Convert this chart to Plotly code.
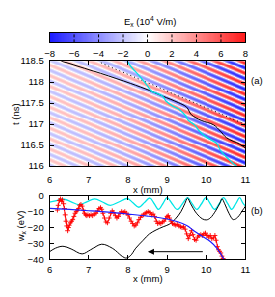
import numpy as np
import plotly.graph_objects as go

# ---------------- data ----------------
# colour bar
cb_ticks = [-8, -6, -4, -2, 0, 2, 4, 6, 8]
cb_grid = [-6, -4, -2, 0, 2, 4, 6]
cb_levels = list(np.linspace(-8, 8, 161))

# panel (a) field parameters
amp_x = [6, 7, 8, 9, 10, 11]
amp_v = [2.1, 2.4, 3.0, 4.2, 5.8, 7.6]
wavelength_x = 0.64   # mm
period_t = 0.25       # ns
grid_x = list(np.linspace(6, 11, 204))
grid_t = list(np.linspace(116, 118.5, 110))

a_t_ticks = [116, 116.5, 117, 117.5, 118, 118.5]
a_t_labels = ['116', '116.5', '117', '117.5', '118', '118.5']
x_ticks = [6, 7, 8, 9, 10, 11]

black_a_x = [6.3, 7.3, 8.06, 8.55, 8.88, 9.29, 9.5, 9.62, 9.87, 10.19, 10.36, 10.52, 10.85, 11.0]
black_a_t = [118.5, 118.21, 117.97, 117.8, 117.67, 117.51, 117.4, 117.22, 117.09, 116.98, 116.83, 116.67, 116.52, 116.43]
dotted_a_x = [7.31, 11.0]
dotted_a_t = [118.46, 116.99]
cyan_a_x = [7.98, 8.06, 8.31, 8.51, 8.6, 8.72, 8.88, 8.97, 9.13, 9.29, 9.46, 9.54, 9.7, 9.83, 10.03, 10.28, 10.36, 10.52, 10.69, 10.77]
cyan_a_t = [118.5, 118.39, 118.13, 117.9, 117.78, 117.74, 117.67, 117.55, 117.44, 117.36, 117.21, 117.09, 116.98, 116.83, 116.67, 116.52, 116.37, 116.21, 116.06, 116.0]

# panel (b)
b_w_ticks = [0, -10, -20, -30, -40]
cyan_b_x = [6.0, 6.15, 6.35, 6.55, 6.75, 6.95, 7.15, 7.35, 7.55, 7.77, 7.98, 8.12, 8.28, 8.42, 8.56, 8.67, 8.78, 8.89, 9.0, 9.13, 9.26, 9.39, 9.52, 9.64,
            9.76, 9.88, 9.99, 10.1, 10.21, 10.33, 10.44, 10.55, 10.65, 10.75, 10.85, 10.93, 11.0]
cyan_b_w = [-4.0, -3.2, -2.0, -3.8, -5.6, -3.8, -1.9, -3.9, -6.0, -3.9, -1.7, -4.2, -7.2, -4.3, -1.4, -5.0, -8.6, -5.0, -1.2, -5.0, -8.6, -5.0, -1.2, -5.0,
            -8.6, -5.0, -1.2, -5.0, -8.6, -5.0, -1.2, -5.0, -8.6, -5.0, -1.2, -4.5, -6.5]
black_b_x = [6.0, 6.15, 6.34, 6.55, 6.83, 7.05, 7.33, 7.6, 7.94, 8.06, 8.2, 8.39, 8.55, 8.72, 8.9, 9.05, 9.2, 9.35, 9.45, 9.52, 9.6, 9.75, 9.9, 10.0,
             10.1, 10.25, 10.35, 10.4, 10.47, 10.58, 10.69, 10.8, 10.93, 11.0]
black_b_w = [-35.2, -33.0, -31.8, -33.5, -36.6, -34.0, -30.5, -33.0, -39.2, -37.8, -33.0, -28.0, -24.0, -21.5, -19.5, -18.0, -15.0, -10.0, -5.0, -1.5, -5.0, -11.0, -14.5, -15.2,
             -14.0, -9.0, -4.5, -1.8, -5.0, -11.0, -15.0, -13.5, -9.0, -6.5]
blue_b_x = [6.0, 6.5, 7.0, 7.5, 8.0, 8.5, 9.0, 9.25, 9.5, 9.7, 9.9, 10.1, 10.25, 10.35, 10.45]
blue_b_w = [-7.9, -8.6, -9.4, -10.3, -11.5, -12.8, -14.6, -16.2, -18.7, -22.3, -25.5, -28.8, -32.5, -35.8, -40.0]
red_b_x = [6.20, 6.22, 6.25, 6.28, 6.31, 6.33, 6.36, 6.38, 6.40, 6.42, 6.44, 6.46, 6.48, 6.50, 6.53, 6.56, 6.59, 6.62, 6.65, 6.68,
           6.71, 6.74, 6.77, 6.80, 6.83, 6.86, 6.89, 6.92, 6.95, 6.98, 7.02, 7.06, 7.10, 7.14, 7.18, 7.22, 7.26, 7.30, 7.33, 7.36,
           7.40, 7.44, 7.48, 7.52, 7.56, 7.60, 7.64, 7.68, 7.72, 7.76, 7.80, 7.84, 7.88, 7.92, 7.96, 8.00, 8.04, 8.08, 8.12, 8.16,
           8.20, 8.24, 8.28, 8.32, 8.36, 8.40, 8.44, 8.48, 8.52, 8.56, 8.60, 8.64, 8.68, 8.72, 8.76, 8.80, 8.84, 8.88, 8.92, 8.96,
           9.00, 9.03, 9.06, 9.10, 9.14, 9.18, 9.22, 9.26, 9.30, 9.34, 9.38, 9.42, 9.46, 9.50, 9.54, 9.58, 9.62, 9.66, 9.70, 9.74,
           9.78, 9.82, 9.86, 9.90, 9.94, 9.98, 10.02, 10.06, 10.10, 10.14, 10.18, 10.22, 10.25, 10.28, 10.31, 10.34, 10.37, 10.40, 10.43]
red_b_w = [-9.0, -6.0, -3.0, -2.0, -3.5, -2.5, -5.0, -8.0, -12.0, -16.0, -19.0, -22.0, -20.0, -18.5, -17.0, -16.0, -15.0, -13.0, -11.0, -10.0,
           -9.0, -8.0, -6.0, -5.5, -6.5, -9.0, -11.0, -12.0, -12.5, -12.0, -12.5, -12.0, -12.5, -11.5, -11.0, -9.5, -8.0, -7.5, -8.5, -11.0,
           -14.0, -16.5, -17.0, -14.0, -11.0, -9.5, -10.5, -12.5, -14.0, -13.0, -11.0, -10.0, -10.5, -10.0, -11.0, -12.0, -14.0, -16.0, -17.5, -19.0,
           -18.5, -17.0, -15.0, -13.5, -12.5, -12.0, -11.0, -10.5, -10.0, -10.5, -12.0, -11.5, -13.0, -16.0, -17.5, -17.0, -17.5, -16.5, -16.0, -14.5,
           -13.0, -12.5, -14.0, -16.0, -17.5, -18.0, -18.5, -18.0, -19.0, -19.5, -20.0, -19.5, -21.0, -24.0, -27.0, -25.0, -22.0, -24.5, -27.5, -28.0,
           -26.0, -25.0, -24.5, -25.0, -24.0, -23.5, -25.0, -26.0, -25.0, -27.0, -26.5, -25.0, -28.0, -32.0, -34.0, -35.0, -36.0, -38.0, -39.5]
arrow_x = [9.95, 8.51]
arrow_w = -35.2

# ---------------- figure ----------------
# page body has an 8 px margin, so the figure is 267x289 placed at (8, 8)
OFF = 8
W, H = 275 - OFF, 297 - OFF
def px(x):
    return (x - OFF) / W
def py(y):
    return 1 - (y - OFF) / H

FONT = dict(family='Liberation Sans, Arial, sans-serif', size=9.5, color='black')
cscale = [[0, 'rgb(25,25,255)'], [0.5, 'rgb(255,255,255)'], [1, 'rgb(255,25,25)']]

GX = np.array(grid_x)
GT = np.array(grid_t)
A = np.interp(GX, amp_x, amp_v)
Z = A[None, :] * np.cos(2 * np.pi * (GX[None, :] / wavelength_x + GT[:, None] / period_t))

fig = go.Figure()

# colour bar as heatmap
fig.add_trace(go.Heatmap(x=cb_levels, y=[0.5], z=[cb_levels], colorscale=cscale, zmin=-8, zmax=8,
                         showscale=False, xaxis='x3', yaxis='y3', hoverinfo='skip'))
gx, gy = [], []
for g in cb_grid:
    gx += [g, g, None]
    gy += [0, 1, None]
fig.add_trace(go.Scatter(x=gx, y=gy, mode='lines', line=dict(color='black', width=1, dash='3px,2px'),
                         xaxis='x3', yaxis='y3', showlegend=False, hoverinfo='skip'))

# panel (a)
fig.add_trace(go.Heatmap(x=grid_x, y=grid_t, z=Z, colorscale=cscale, zmin=-8, zmax=8, showscale=False,
                         xaxis='x', yaxis='y', hoverinfo='skip'))
fig.add_trace(go.Scatter(x=black_a_x, y=black_a_t, mode='lines', line=dict(color='black', width=1),
                         line_shape='spline', xaxis='x', yaxis='y', showlegend=False))
fig.add_trace(go.Scatter(x=dotted_a_x, y=dotted_a_t, mode='lines', line=dict(color='black', width=1, dash='1px,3px'),
                         xaxis='x', yaxis='y', showlegend=False))
fig.add_trace(go.Scatter(x=cyan_a_x, y=cyan_a_t, mode='lines', line=dict(color='rgb(0,230,230)', width=1.3),
                         line_shape='spline', xaxis='x', yaxis='y', showlegend=False))

# panel (b)
fig.add_trace(go.Scatter(x=cyan_b_x, y=cyan_b_w, mode='lines', line=dict(color='rgb(0,230,230)', width=1.3),
                         line_shape='spline', xaxis='x2', yaxis='y2', showlegend=False))
fig.add_trace(go.Scatter(x=black_b_x, y=black_b_w, mode='lines', line=dict(color='black', width=1),
                         line_shape='spline', xaxis='x2', yaxis='y2', showlegend=False))
fig.add_trace(go.Scatter(x=red_b_x, y=red_b_w, mode='lines+markers', line=dict(color='red', width=1),
                         marker=dict(symbol='cross-thin', size=3.5, line=dict(color='red', width=0.9)),
                         xaxis='x2', yaxis='y2', showlegend=False))
fig.add_trace(go.Scatter(x=blue_b_x, y=blue_b_w, mode='lines', line=dict(color='rgb(30,30,255)', width=1.2),
                         line_shape='spline', xaxis='x2', yaxis='y2', showlegend=False))

xdom = [px(46), px(249.5)]
axis_common = dict(showline=True, linecolor='black', linewidth=1, mirror='ticks', ticks='inside',
                   ticklen=4, tickcolor='black', tickwidth=1, showgrid=False, zeroline=False,
                   tickfont=FONT)

fig.update_layout(
    width=W, height=H, margin=dict(l=0, r=0, t=0, b=0),
    paper_bgcolor='white', plot_bgcolor='white', font=FONT, showlegend=False,
    xaxis=dict(domain=xdom, range=[6, 11], tickvals=x_ticks, anchor='y', ticklabelstandoff=5, **axis_common),
    yaxis=dict(domain=[py(166), py(57)], range=[116, 118.5], tickvals=a_t_ticks, ticktext=a_t_labels,
               anchor='x', ticklabelstandoff=3, **axis_common),
    xaxis2=dict(domain=xdom, range=[6, 11], tickvals=x_ticks, anchor='y2', ticklabelstandoff=1, **axis_common),
    yaxis2=dict(domain=[py(263), py(197)], range=[-40, 0], tickvals=b_w_ticks, anchor='x2',
                ticklabelstandoff=3, **axis_common),
    xaxis3=dict(domain=xdom, range=[-8, 8], tickvals=cb_ticks, anchor='y3', showline=True, linecolor='black',
                linewidth=1, mirror=True, ticks='', showgrid=False, zeroline=False, tickfont=FONT,
                ticklabelstandoff=2),
    yaxis3=dict(domain=[py(37.5), py(27.5)], range=[0, 1], anchor='x3', showline=True, linecolor='black',
                linewidth=1, mirror=True, ticks='', showticklabels=False, showgrid=False, zeroline=False),
)

ann = [
    dict(x=px(150), y=py(16), text='E<sub>x</sub> (10<sup>4</sup> V/m)'),
    dict(x=px(10), y=py(112), text='t (ns)', textangle=-90),
    dict(x=px(262), y=py(77), text='(a)'),
    dict(x=px(148), y=py(190), text='x (mm)'),
    dict(x=px(16), y=py(229), text='w<sub>x</sub> (eV)', textangle=-90),
    dict(x=px(262), y=py(212), text='(b)'),
    dict(x=px(148), y=py(283), text='x (mm)'),
]
for a in ann:
    fig.add_annotation(xref='paper', yref='paper', showarrow=False, xanchor='center', yanchor='middle',
                       font=FONT, **a)

fig.add_annotation(x=arrow_x[1], y=arrow_w, ax=arrow_x[0], ay=arrow_w, xref='x2', yref='y2',
                   axref='x2', ayref='y2', showarrow=True, arrowhead=2, arrowsize=1.2, arrowwidth=1,
                   arrowcolor='black', text='')

fig.write_html('out.html')
